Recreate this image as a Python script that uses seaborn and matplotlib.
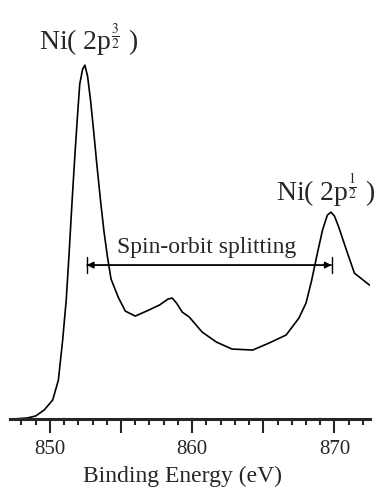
import numpy as np
import pandas as pd
import seaborn as sns
import matplotlib.pyplot as plt
from matplotlib.ticker import MultipleLocator

# Ni 2p XPS spectrum
energy = [847.4, 848.4, 849.0, 849.6, 850.2, 850.6, 850.9, 851.15, 851.35, 851.55,
          851.75, 851.95, 852.1, 852.3, 852.46, 852.65, 852.85, 853.05, 853.3, 853.55,
          853.8, 854.05, 854.3, 854.8, 855.3, 856.0, 856.8, 857.7, 858.3, 858.6,
          858.9, 859.3, 859.8, 860.7, 861.7, 862.8, 864.25, 865.4, 866.6, 867.5,
          868.0, 868.4, 868.8, 869.16, 869.5, 869.75, 870.0, 870.3, 870.84, 871.4,
          872.46]
intensity = [0, 1, 3, 9, 19, 39, 79, 119, 165, 215,
             262, 305, 335, 350, 354, 343, 320, 292, 255, 220,
             188, 162, 140, 122, 108, 103, 108, 114, 120, 121,
             116, 107, 102, 87, 77, 70, 69, 76, 84, 101,
             116, 139, 166, 189, 204, 207, 203, 192, 169, 146,
             134]

peak_32 = 852.6
peak_12 = 869.8

df = pd.DataFrame({"Binding Energy (eV)": energy, "Intensity": intensity})

sns.set_style("ticks")
plt.rcParams['font.family'] = ['Liberation Serif', 'DejaVu Serif']
plt.rcParams['mathtext.fontset'] = 'stix'

fig = plt.figure(figsize=(3.79, 4.95), dpi=100)
ax = fig.add_axes([0.0264, 0.1535, 0.95, 0.7855])

sns.lineplot(data=df, x="Binding Energy (eV)", y="Intensity", ax=ax,
             color="black", linewidth=1.2)

ax.set_xlim(847.2, 872.5)
ax.set_ylim(0, 389)
ax.set_yticks([])
ax.set_ylabel("")
sns.despine(ax=ax, left=True)
ax.spines['bottom'].set_linewidth(2.2)

ax.xaxis.set_major_locator(MultipleLocator(5))
ax.xaxis.set_minor_locator(MultipleLocator(1))
ax.set_xticks([850, 855, 860, 865, 870])
ax.set_xticklabels(["850", "", "860", "", "870"])
ax.tick_params(axis='x', which='major', direction='out', length=10, width=1.5,
               labelsize=15, pad=5)
ax.tick_params(axis='x', which='minor', direction='out', length=4.5, width=1.5)
ax.set_xlabel("Binding Energy (eV)", fontsize=17, labelpad=4)
ax.xaxis.set_label_coords(0.48, -0.12)

ax.text(852.7, 379, r"Ni( 2p$^{\frac{3}{2}}$ )", fontsize=20, ha='center', va='center')
ax.text(869.4, 229, r"Ni( 2p$^{\frac{1}{2}}$ )", fontsize=20, ha='center', va='center')
ax.text(861.0, 172, "Spin-orbit splitting", fontsize=17, ha='center', va='center')

ax.annotate("", xy=(peak_32, 154), xytext=(peak_12, 154),
            arrowprops=dict(arrowstyle='<|-|>', color='black', lw=1,
                            shrinkA=0, shrinkB=0, mutation_scale=10))
ax.annotate("", xy=(peak_32, 154), xytext=(peak_12, 154),
            arrowprops=dict(arrowstyle='|-|,widthA=0.6,widthB=0.6', color='black',
                            lw=1, shrinkA=0, shrinkB=0, mutation_scale=10))

fig.savefig("out.png", dpi=100)
